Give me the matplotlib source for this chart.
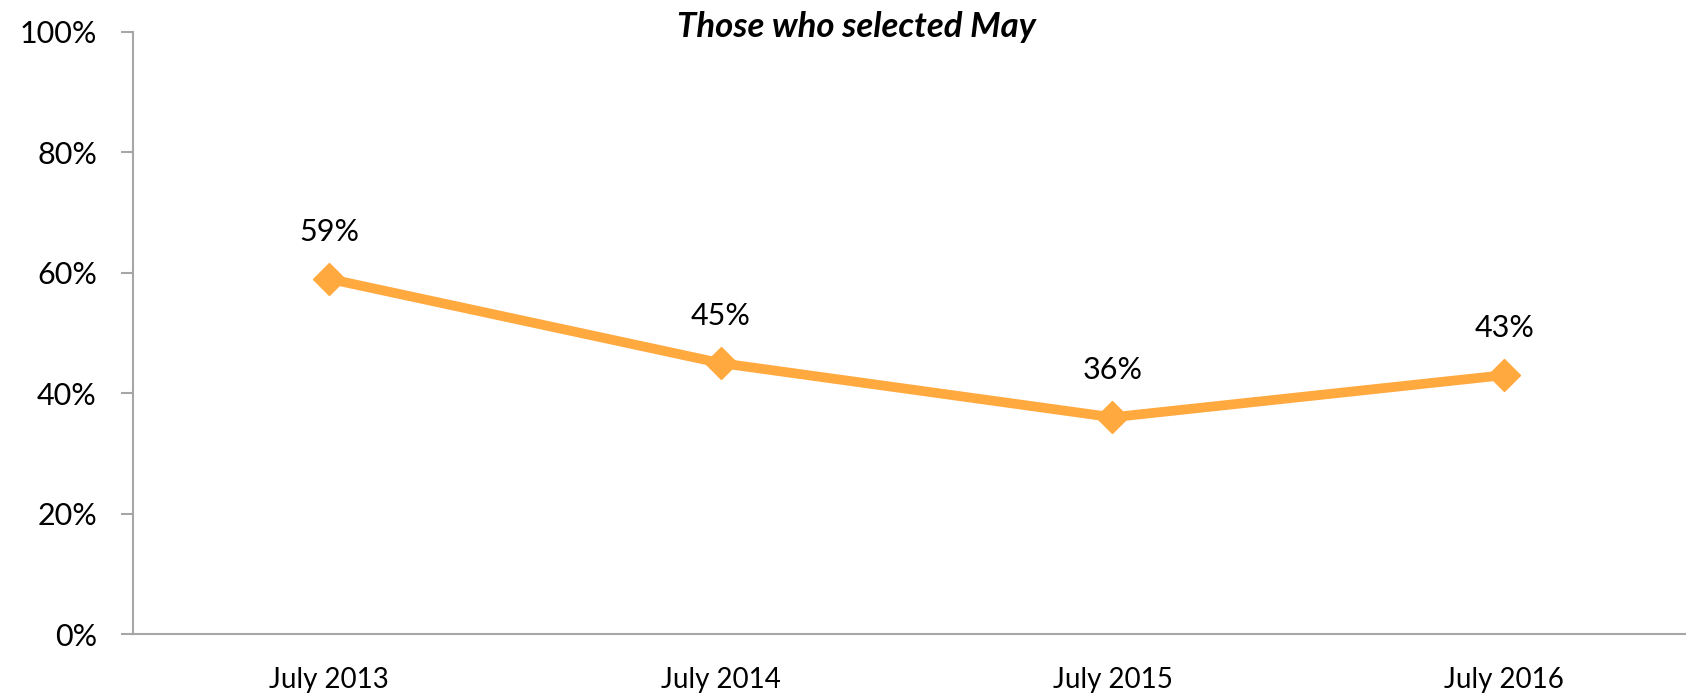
import matplotlib.pyplot as plt
import numpy as np

plt.rcParams['font.family'] = ['Lato', 'DejaVu Sans']

# data
periods = ["July 2013", "July 2014", "July 2015", "July 2016"]
share_may = [59, 45, 36, 43]
yticks = [0, 20, 40, 60, 80, 100]

orange = "#FFA93F"
grey = "#A6A6A6"

fig = plt.figure(figsize=(16.86, 6.93), dpi=100)
ax = fig.add_axes([133/1686, 1 - 634/693, 1 - 133/1686, (634 - 32)/693])

x = np.arange(len(periods))
ax.plot(x, share_may, color=orange, linewidth=7, marker="D", markersize=16,
        markerfacecolor=orange, markeredgecolor=orange, zorder=3, clip_on=False)

for xi, v in zip(x, share_may):
    ax.annotate(f"{v}%", (xi, v), xytext=(0, 34), textcoords="offset points",
                ha="center", va="center", fontsize=22)

ax.set_xlim(-0.5, 3.464)
ax.set_ylim(0, 100)
ax.set_xticks(x)
ax.set_xticklabels(periods, fontsize=20)
ax.set_yticks(yticks)
ax.set_yticklabels([f"{t}%" for t in yticks], fontsize=22)

for s in ["top", "right"]:
    ax.spines[s].set_visible(False)
for s in ["left", "bottom"]:
    ax.spines[s].set_color(grey)
    ax.spines[s].set_linewidth(1.5)

ax.tick_params(axis="y", length=9, width=1.5, color=grey, pad=17)
ax.tick_params(axis="x", length=0, pad=24)

fig.text(0.508, 1 - 27/693, "Those who selected May", ha="center", va="center",
         fontsize=25, fontweight="bold", fontstyle="italic")

plt.savefig("out.png", dpi=100)
